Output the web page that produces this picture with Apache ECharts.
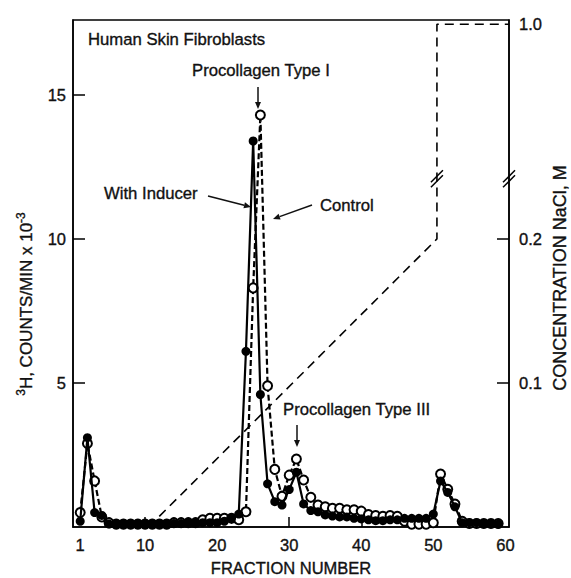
<!DOCTYPE html>
<html><head><meta charset="utf-8">
<script src="https://cdn.jsdelivr.net/npm/echarts@6/dist/echarts.min.js"></script>
<style>html,body{margin:0;padding:0;background:#fff}#c{width:571px;height:578px}</style>
</head><body><div id="c"></div>
<script>
// ---- data ----
const fractions = [1,2,3,4,5,6,7,8,9,10,11,12,13,14,15,16,17,18,19,20,21,22,23,24,25,26,27,28,29,30,31,32,33,34,35,36,37,38,39,40,41,42,43,44,45,46,47,48,49,50,51,52,53,54,55,56,57,58,59];
const withInducer = [0.2,3.1,0.5,0.4,0.1,0.1,0.1,0.1,0.1,0.1,0.1,0.1,0.1,0.12,0.12,0.15,0.15,0.15,0.15,0.15,0.2,0.3,0.45,6.1,13.4,4.6,1.5,0.88,0.76,1.3,1.9,0.8,0.57,0.53,0.42,0.38,0.35,0.35,0.3,0.28,0.25,0.22,0.22,0.25,0.25,0.3,0.3,0.3,0.3,0.45,1.6,1.2,0.7,0.15,0.15,0.15,0.12,0.12,0.1];
const control = [0.5,2.9,1.6,0.35,0.15,0.1,0.1,0.1,0.1,0.1,0.1,0.1,0.1,0.15,0.15,0.15,0.15,0.25,0.3,0.3,0.3,0.3,0.25,0.53,8.3,14.3,4.9,2.0,1.07,1.8,2.36,1.63,1.03,0.76,0.7,0.65,0.65,0.6,0.6,0.55,0.43,0.4,0.37,0.4,0.37,0.2,0.1,0.1,0.1,0.15,1.84,1.31,0.8,0.2,0.12,0.12,0.12,0.12,0.12];
const gradientFractions = [10.5, 50.5, 50.5, 60.5];
const gradientNaCl = [0, 0.2, 1.0, 1.0];
const xTickLabels = [1,10,20,30,40,50,60];
const xTicks = [10,20,30,40,50];
const leftTickLabels = [5,10,15];
const rightTickLabels = [0.1,0.2,1.0];

// ---- broken right axis mapping ----
const BREAK_LOW = 0.2, TOP_DISP = 0.349, RIGHT_MAX = 0.352;
function naclToAxis(v){ return v <= BREAK_LOW ? v : BREAK_LOW + (v - BREAK_LOW) * (TOP_DISP - BREAK_LOW) / (1.0 - BREAK_LOW); }
function axisToNacl(d){ return d <= BREAK_LOW ? d : BREAK_LOW + (d - BREAK_LOW) * (1.0 - BREAK_LOW) / (TOP_DISP - BREAK_LOW); }

const FONT = "'Liberation Sans', Arial, sans-serif";
const INK = '#111';
const SW = 0.35; // slight stroke to mimic the heavier print type

const chart = echarts.init(document.getElementById('c'), null, {renderer: 'svg'});

function txt(id, text, x, y, size, extra){
  return Object.assign({type:'text', id, x, y, style:{text, fill:INK, stroke:INK, lineWidth:SW, font: size + 'px ' + FONT, align:'left', verticalAlign:'middle'}}, extra||{});
}
function arrow(id, x1, y1, x2, y2){
  const a = Math.atan2(y2-y1, x2-x1), L = 7, W = 3;
  const bx = x2 - L*Math.cos(a), by = y2 - L*Math.sin(a);
  return [
    {type:'line', id:id+'l', shape:{x1, y1, x2:bx, y2:by}, style:{stroke:INK, lineWidth:1.5}},
    {type:'polygon', id:id+'h', shape:{points:[[x2,y2],[bx - W*Math.sin(a), by + W*Math.cos(a)],[bx + W*Math.sin(a), by - W*Math.cos(a)]]}, style:{fill:INK}}
  ];
}
const labelStyle = {fontSize:16.5, color:INK, fontFamily:FONT, textBorderColor:INK, textBorderWidth:SW};

const option = {
  animation: false,
  backgroundColor: '#fff',
  grid: {left:73, right:62, top:20, bottom:51, show:true, borderColor:'#000', borderWidth:1.5},
  xAxis: {
    type:'value', min:0, max:60.5,
    axisLine:{show:true, onZero:false, lineStyle:{color:'#000', width:1.5}},
    axisTick:{show:true, inside:true, length:10, customValues:xTicks, lineStyle:{color:'#000', width:1.5}},
    axisLabel:Object.assign({customValues:xTickLabels, margin:9}, labelStyle),
    splitLine:{show:false}
  },
  yAxis: [{
    type:'value', min:0, max:17.6, position:'left',
    axisLine:{show:true, onZero:false, lineStyle:{color:'#000', width:1.5}},
    axisTick:{show:true, inside:true, length:12, customValues:leftTickLabels, lineStyle:{color:'#000', width:1.5}},
    axisLabel:Object.assign({customValues:leftTickLabels, margin:7}, labelStyle),
    splitLine:{show:false}
  },{
    type:'value', min:0, max:RIGHT_MAX, position:'right',
    axisLine:{show:true, onZero:false, lineStyle:{color:'#000', width:1.5}},
    axisTick:{show:true, inside:true, length:12, customValues:[0.1,0.2], lineStyle:{color:'#000', width:1.5}},
    axisLabel:Object.assign({customValues:rightTickLabels.map(naclToAxis), formatter:(v)=>axisToNacl(v).toFixed(1), margin:10}, labelStyle),
    splitLine:{show:false}
  }],
  series: [{
    name:'NaCl gradient', type:'line', yAxisIndex:1, showSymbol:false, symbol:'none', z:1,
    data: gradientFractions.map((f,i)=>[f, naclToAxis(gradientNaCl[i])]),
    lineStyle:{color:'#000', width:1.6, type:[9,6]}
  },{
    name:'Control', type:'line', yAxisIndex:0, symbol:'emptyCircle', symbolSize:9, z:2,
    data: fractions.map((f,i)=>[f, control[i]]),
    itemStyle:{color:'#000', borderColor:'#000', borderWidth:2},
    lineStyle:{color:'#000', width:2.2, type:[6,3]}
  },{
    name:'With Inducer', type:'line', yAxisIndex:0, symbol:'circle', symbolSize:9, z:3,
    data: fractions.map((f,i)=>[f, withInducer[i]]),
    itemStyle:{color:'#000'},
    lineStyle:{color:'#000', width:2.2}
  }]
};
chart.setOption(option);

// graphic annotations
const g = [
  txt('t1','Human Skin Fibroblasts',88,39,16.7),
  txt('t2','Procollagen Type I',192,70,16.7),
  txt('t3','With Inducer',104,193,16.7),
  txt('t4','Control',320,205,16.7),
  txt('t5','Procollagen Type III',283,409,16.7),
  {type:'text', id:'xname', x:291, y:568, style:{text:'FRACTION NUMBER', fill:INK, stroke:INK, lineWidth:SW, font:'16.5px '+FONT, align:'center', verticalAlign:'middle'}},
  {type:'text', id:'yname', x:25, y:304, rotation:Math.PI/2, style:{
    text:'{sup|3}{n|H, COUNTS/MIN x 10}{sup|-3}', fill:INK, stroke:INK, lineWidth:SW, font:'17px '+FONT, align:'center', verticalAlign:'middle',
    rich:{n:{fontSize:17, fontFamily:FONT, fill:INK, lineHeight:20, verticalAlign:'bottom'}, sup:{fontSize:12, fontFamily:FONT, fill:INK, lineHeight:20, verticalAlign:'top'}}}},
  {type:'text', id:'y2name', x:560, y:278, rotation:Math.PI/2, style:{text:'CONCENTRATION NaCl, M', fill:INK, stroke:INK, lineWidth:SW, font:'18px '+FONT, align:'center', verticalAlign:'middle'}}
].concat(arrow('a1',258,87,258,109), arrow('a2',297,425,297,447), arrow('a3',208,196,251,207), arrow('a4',312,205,273,219));

// axis-break marks, placed through the chart's own scales
const breakDisp = BREAK_LOW + 0.28*(TOP_DISP - BREAK_LOW);
[[gradientFractions[1], 'b1'], [60.5, 'b2']].forEach(([f,id])=>{
  const p = chart.convertToPixel({xAxisIndex:0, yAxisIndex:1}, [f, breakDisp]);
  [-2.5, 2.5].forEach((o,k)=>{
    g.push({type:'line', id:id+k, shape:{x1:p[0]-6, y1:p[1]+6+o, x2:p[0]+6, y2:p[1]-6+o}, style:{stroke:'#000', lineWidth:1.5}, z:10});
  });
});
chart.setOption({graphic:g});
</script></body></html>
